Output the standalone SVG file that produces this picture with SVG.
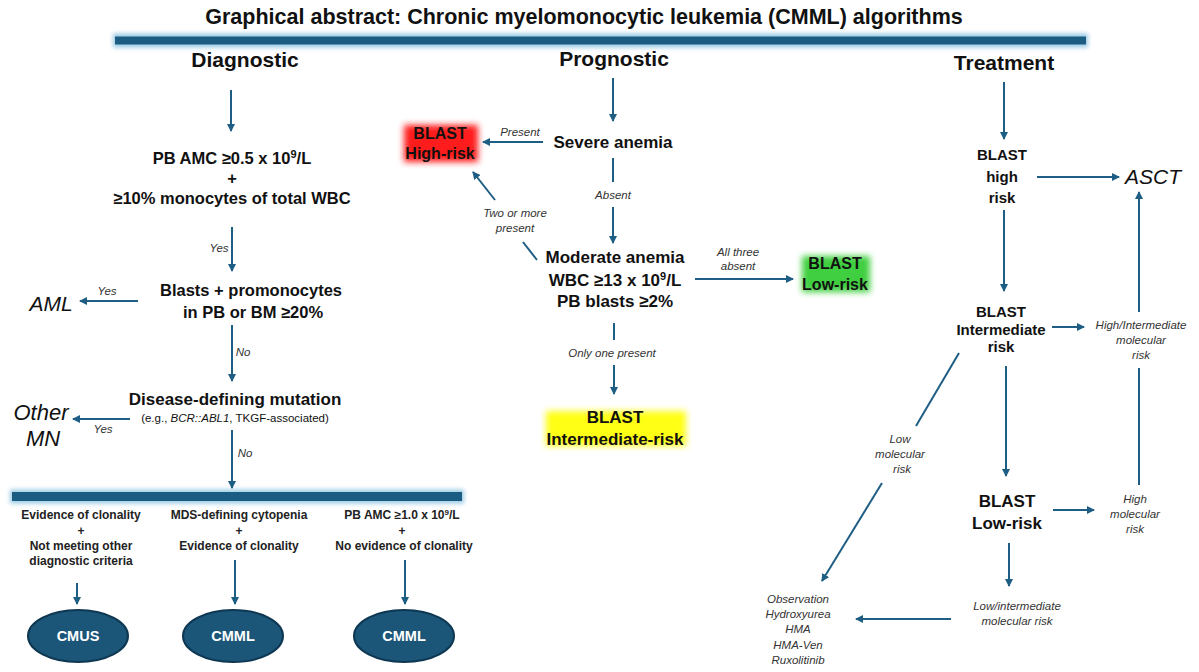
<svg xmlns="http://www.w3.org/2000/svg" width="1199" height="672" viewBox="0 0 1199 672">
<defs>
<marker id="ah" viewBox="0 0 8 8" refX="7" refY="4" markerWidth="8" markerHeight="8" markerUnits="userSpaceOnUse" orient="auto">
<path d="M0,0 L8,4 L0,8 z" fill="#1f5e84"/>
</marker>
<filter id="blur" x="-30%" y="-50%" width="160%" height="200%"><feGaussianBlur stdDeviation="3"/></filter>
<filter id="blur2" x="-10%" y="-100%" width="120%" height="300%"><feGaussianBlur stdDeviation="2"/></filter>
<style>
text{font-family:"Liberation Sans",Arial,sans-serif;fill:#111}
.ttl{font-size:21.5px;font-weight:bold;text-anchor:middle}
.hdr{font-size:21px;font-weight:bold;text-anchor:middle}
.b{font-weight:bold;text-anchor:middle}
.crit{font-size:12px;font-weight:bold;text-anchor:middle;fill:#222}
.lbl{font-size:11.5px;font-style:italic;text-anchor:middle;fill:#333}
.big{font-style:italic;text-anchor:middle;fill:#111}
.wt{font-size:14.5px;font-weight:bold;text-anchor:middle;fill:#fff}
.ln{stroke:#1f5e84;stroke-width:2;fill:none}
.arr{stroke:#1f5e84;stroke-width:2;fill:none;marker-end:url(#ah)}
.ell{fill:#1b5679;stroke:#0e3752;stroke-width:2}
</style>
</defs>
<rect width="1199" height="672" fill="#fff"/>

<g id="title">
<text class="ttl" x="584" y="24">Graphical abstract: Chronic myelomonocytic leukemia (CMML) algorithms</text>
<rect x="113" y="33.5" width="975" height="14" fill="#9ccbe4" filter="url(#blur2)"/>
<rect x="115" y="36.5" width="971" height="8" fill="#1a5c82"/>
</g>

<g id="headers">
<text class="hdr" x="245" y="67">Diagnostic</text>
<text class="hdr" x="614" y="66">Prognostic</text>
<text class="hdr" x="1004" y="70">Treatment</text>
</g>

<!-- Diagnostic nodes -->
<g id="pb-amc">
<text class="b" font-size="16.5" x="232" y="164">PB AMC ≥0.5 x 10<tspan dy="-6" font-size="11">9</tspan><tspan dy="6">/L</tspan></text>
<text class="b" font-size="16.5" x="232" y="184">+</text>
<text class="b" font-size="16.5" x="232" y="204">≥10% monocytes of total WBC</text>
</g>
<g id="blasts">
<text class="b" font-size="16.5" x="251" y="296">Blasts + promonocytes</text>
<text class="b" font-size="16.5" x="253" y="318">in PB or BM ≥20%</text>
</g>
<g id="aml"><text class="big" font-size="21" x="51" y="311">AML</text></g>
<g id="mutation">
<text class="b" font-size="17" x="235" y="405">Disease-defining mutation</text>
<text font-size="11.5" x="235" y="422" text-anchor="middle" fill="#222">(e.g., <tspan font-style="italic">BCR::ABL1</tspan>, TKGF-associated)</text>
</g>
<g id="other-mn">
<text class="big" font-size="22" x="41" y="420">Other</text>
<text class="big" font-size="22" x="43" y="446">MN</text>
</g>
<g id="bottom-bar">
<rect x="10" y="489.5" width="454" height="14" fill="#9ccbe4" filter="url(#blur2)"/>
<rect x="12" y="492" width="450" height="9" fill="#1a5c82"/>
</g>
<g id="crit-cmus">
<text class="crit" x="81" y="519">Evidence of clonality</text>
<text class="crit" x="81" y="535">+</text>
<text class="crit" x="81" y="550">Not meeting other</text>
<text class="crit" x="81" y="565">diagnostic criteria</text>
</g>
<g id="crit-mds">
<text class="crit" x="239" y="519">MDS-defining cytopenia</text>
<text class="crit" x="239" y="535">+</text>
<text class="crit" x="239" y="550">Evidence of clonality</text>
</g>
<g id="crit-amc">
<text class="crit" x="402" y="519">PB AMC ≥1.0 x 10<tspan dy="-4" font-size="8">9</tspan><tspan dy="4">/L</tspan></text>
<text class="crit" x="402" y="535">+</text>
<text class="crit" x="404" y="550">No evidence of clonality</text>
</g>
<g id="cmus"><ellipse class="ell" cx="78" cy="636" rx="50" ry="26"/><text class="wt" x="78" y="641">CMUS</text></g>
<g id="cmml1"><ellipse class="ell" cx="233" cy="636" rx="50" ry="26"/><text class="wt" x="233" y="641">CMML</text></g>
<g id="cmml2"><ellipse class="ell" cx="404" cy="636" rx="50" ry="26"/><text class="wt" x="404" y="641">CMML</text></g>

<!-- Prognostic nodes -->
<g id="severe-anemia"><text class="b" font-size="17" x="613" y="148">Severe anemia</text></g>
<g id="blast-high">
<rect x="404" y="125" width="74" height="37" fill="#ff1a1a" filter="url(#blur)"/>
<text class="b" font-size="16" x="440" y="139">BLAST</text>
<text class="b" font-size="16" x="440" y="159">High-risk</text>
</g>
<g id="moderate">
<text class="b" font-size="17" x="615" y="263">Moderate anemia</text>
<text class="b" font-size="17" x="615" y="286">WBC ≥13 x 10<tspan dy="-6" font-size="11">9</tspan><tspan dy="6">/L</tspan></text>
<text class="b" font-size="17" x="615" y="307">PB blasts ≥2%</text>
</g>
<g id="blast-low-prog">
<rect x="802" y="256" width="68" height="36" fill="#3fcf3f" filter="url(#blur)"/>
<text class="b" font-size="16" x="835" y="269">BLAST</text>
<text class="b" font-size="16" x="835" y="290">Low-risk</text>
</g>
<g id="blast-int-prog">
<rect x="546" y="411" width="140" height="35" fill="#ffff14" filter="url(#blur)"/>
<text class="b" font-size="17" x="615" y="423">BLAST</text>
<text class="b" font-size="17" x="615" y="445">Intermediate-risk</text>
</g>

<!-- Treatment nodes -->
<g id="t-high">
<text class="b" font-size="15" x="1002" y="160">BLAST</text>
<text class="b" font-size="15" x="1002" y="182">high</text>
<text class="b" font-size="15" x="1002" y="203">risk</text>
</g>
<g id="asct"><text class="big" font-size="21" x="1153" y="184">ASCT</text></g>
<g id="t-int">
<text class="b" font-size="15" x="1001" y="317">BLAST</text>
<text class="b" font-size="15" x="1001" y="335">Intermediate</text>
<text class="b" font-size="15" x="1001" y="352">risk</text>
</g>
<g id="hi-int-mol">
<text class="lbl" font-size="12.5" x="1141" y="329">High/Intermediate</text>
<text class="lbl" font-size="12.5" x="1141" y="344">molecular</text>
<text class="lbl" font-size="12.5" x="1141" y="359">risk</text>
</g>
<g id="t-low">
<text class="b" font-size="17" x="1007" y="507">BLAST</text>
<text class="b" font-size="17" x="1007" y="529">Low-risk</text>
</g>
<g id="hi-mol">
<text class="lbl" font-size="12.5" x="1135" y="503">High</text>
<text class="lbl" font-size="12.5" x="1135" y="518">molecular</text>
<text class="lbl" font-size="12.5" x="1135" y="533">risk</text>
</g>
<g id="low-int-mol">
<text class="lbl" font-size="12.5" x="1017" y="610">Low/intermediate</text>
<text class="lbl" font-size="12.5" x="1017" y="625">molecular risk</text>
</g>
<g id="therapies">
<text class="lbl" font-size="12" x="798" y="603">Observation</text>
<text class="lbl" font-size="12" x="798" y="618">Hydroxyurea</text>
<text class="lbl" font-size="12" x="798" y="633">HMA</text>
<text class="lbl" font-size="12" x="798" y="649">HMA-Ven</text>
<text class="lbl" font-size="12" x="798" y="664">Ruxolitinib</text>
</g>

<g id="connectors">
<!-- diagnostic -->
<line class="arr" x1="231" y1="90" x2="231" y2="131"/>
<line class="arr" x1="232" y1="227" x2="232" y2="271"/>
<text class="lbl" x="219" y="252">Yes</text>
<line class="arr" x1="138" y1="301" x2="80" y2="301"/>
<text class="lbl" x="107" y="295">Yes</text>
<line class="arr" x1="232" y1="325" x2="232" y2="381"/>
<text class="lbl" x="243" y="356">No</text>
<line class="arr" x1="130" y1="419" x2="73" y2="419"/>
<text class="lbl" x="103" y="433">Yes</text>
<line class="arr" x1="232" y1="430" x2="232" y2="488"/>
<text class="lbl" x="245" y="457">No</text>
<line class="arr" x1="77" y1="583" x2="77" y2="604"/>
<line class="arr" x1="235" y1="560" x2="235" y2="604"/>
<line class="arr" x1="405" y1="560" x2="405" y2="604"/>
<!-- prognostic -->
<line class="arr" x1="613" y1="78" x2="613" y2="121"/>
<line class="arr" x1="543" y1="142" x2="483" y2="142"/>
<text class="lbl" x="520" y="136">Present</text>
<line class="ln" x1="613" y1="158" x2="613" y2="182"/>
<text class="lbl" x="613" y="199">Absent</text>
<line class="arr" x1="613" y1="207" x2="613" y2="243"/>
<line class="ln" x1="537" y1="260" x2="523" y2="242"/>
<text class="lbl" x="515" y="217">Two or more</text>
<text class="lbl" x="515" y="232">present</text>
<line class="arr" x1="495" y1="200" x2="473" y2="172"/>
<line class="arr" x1="695" y1="279" x2="793" y2="279"/>
<text class="lbl" x="738" y="256">All three</text>
<text class="lbl" x="738" y="270">absent</text>
<line class="ln" x1="614" y1="323" x2="614" y2="340"/>
<text class="lbl" font-size="12" x="612" y="357">Only one present</text>
<line class="arr" x1="614" y1="365" x2="614" y2="394"/>
<!-- treatment -->
<line class="arr" x1="1004" y1="82" x2="1004" y2="139"/>
<line class="arr" x1="1037" y1="177" x2="1119" y2="177"/>
<line class="arr" x1="1139" y1="312" x2="1139" y2="192"/>
<line class="ln" x1="1139" y1="485" x2="1139" y2="368"/>
<line class="arr" x1="1004" y1="210" x2="1004" y2="291"/>
<line class="arr" x1="1052" y1="327" x2="1084" y2="327"/>
<line class="ln" x1="959" y1="353" x2="916" y2="426"/>
<text class="lbl" font-size="12.5" x="900" y="443">Low</text>
<text class="lbl" font-size="12.5" x="900" y="458">molecular</text>
<text class="lbl" font-size="12.5" x="902" y="473">risk</text>
<line class="arr" x1="882" y1="483" x2="822" y2="581"/>
<line class="arr" x1="1006" y1="366" x2="1006" y2="476"/>
<line class="arr" x1="1053" y1="510" x2="1094" y2="510"/>
<line class="arr" x1="1009" y1="543" x2="1009" y2="586"/>
<line class="arr" x1="951" y1="619" x2="856" y2="619"/>
</g>
</svg>
